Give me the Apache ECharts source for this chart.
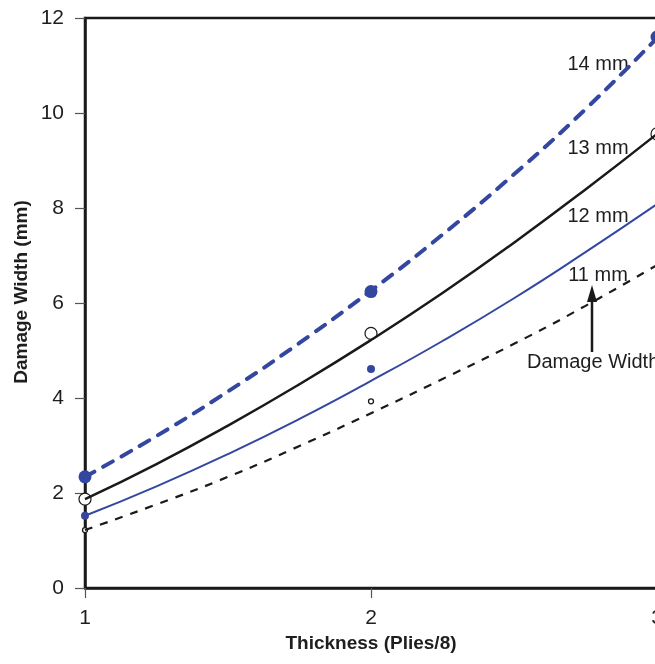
<!DOCTYPE html>
<html>
<head>
<meta charset="utf-8">
<script src="https://cdn.jsdelivr.net/npm/echarts@6/dist/echarts.min.js"></script>
<style>
  html, body { margin: 0; padding: 0; background: #fff; }
  #chart { width: 655px; height: 664px; }
</style>
</head>
<body>
<div id="chart"></div>
<script>
// Fitted damage-width curves versus laminate thickness, one per impactor size
const thickness = [1, 1.25, 1.5, 1.75, 2, 2.25, 2.5, 2.75, 3];
const fit14mm = [2.34, 3.20, 4.14, 5.16, 6.26, 7.44, 8.71, 10.08, 11.58];
const fit13mm = [1.87, 2.61, 3.42, 4.29, 5.22, 6.21, 7.27, 8.39, 9.56];
const fit12mm = [1.52, 2.14, 2.82, 3.56, 4.36, 5.20, 6.10, 7.07, 8.08];
const fit11mm = [1.22, 1.76, 2.34, 2.99, 3.68, 4.40, 5.14, 5.94, 6.80];

// Measured points
const testThickness = [1, 2, 3];
const test14mm = [2.34, 6.24, 11.6];
const test13mm = [1.87, 5.36, 9.56];
const test12mm = [1.52, 4.61];
const test11mm = [1.22, 3.93];

const xTicks = [1, 2, 3];
const yTicks = [0, 2, 4, 6, 8, 10, 12];

const seriesLabels = ['14 mm', '13 mm', '12 mm', '11 mm'];
const calloutText = 'Damage Width';
const xTitle = 'Thickness (Plies/8)';
const yTitle = 'Damage Width (mm)';

const BLUE = '#3447a0';
const BLACK = '#1a1a1a';
const TEXT = '#1e1e1e';
const FONT = "'Liberation Sans', Arial, sans-serif";

const pairs = (xs, ys) => ys.map((y, i) => [xs[i], y]);

const chart = echarts.init(document.getElementById('chart'), null, { renderer: 'canvas' });

chart.setOption({
  animation: false,
  backgroundColor: '#fff',
  grid: {
    left: 85, top: 18, width: 572, height: 570,
    outerBoundsMode: 'none', containLabel: false,
    show: true, borderColor: BLACK, borderWidth: 2.5, backgroundColor: 'transparent'
  },
  xAxis: {
    type: 'value', min: xTicks[0], max: xTicks[xTicks.length - 1], interval: 1,
    name: xTitle, nameLocation: 'middle', nameGap: 44,
    nameTextStyle: { fontFamily: FONT, fontSize: 19, fontWeight: 'bold', color: TEXT },
    axisLine: { show: true, onZero: false, lineStyle: { color: BLACK, width: 2.5 } },
    axisTick: { show: true, length: 10, lineStyle: { color: '#555', width: 1.2 } },
    axisLabel: { margin: 20, fontFamily: FONT, fontSize: 21, color: TEXT },
    splitLine: { show: false }
  },
  yAxis: {
    type: 'value', min: yTicks[0], max: yTicks[yTicks.length - 1], interval: 2,
    axisLine: { show: true, onZero: false, lineStyle: { color: BLACK, width: 2.5 } },
    axisTick: { show: true, length: 10, lineStyle: { color: '#555', width: 1.2 } },
    axisLabel: { margin: 21, fontFamily: FONT, fontSize: 21, color: TEXT },
    splitLine: { show: false }
  },
  series: [
    {
      type: 'line', name: seriesLabels[0], data: pairs(thickness, fit14mm),
      smooth: true, symbol: 'none',
      lineStyle: { color: BLUE, width: 4, type: [11, 10], cap: 'round' }
    },
    {
      type: 'line', name: seriesLabels[1], data: pairs(thickness, fit13mm),
      smooth: true, symbol: 'none',
      lineStyle: { color: BLACK, width: 2.5 }
    },
    {
      type: 'line', name: seriesLabels[2], data: pairs(thickness, fit12mm),
      smooth: true, symbol: 'none',
      lineStyle: { color: BLUE, width: 2 }
    },
    {
      type: 'line', name: seriesLabels[3], data: pairs(thickness, fit11mm),
      smooth: true, symbol: 'none',
      lineStyle: { color: BLACK, width: 2.2, type: [8, 8] }
    },
    {
      type: 'scatter', data: pairs(testThickness, test14mm), symbolSize: 13,
      itemStyle: { color: BLUE, opacity: 1 }
    },
    {
      type: 'scatter', data: pairs(testThickness, test13mm), symbolSize: 12,
      itemStyle: { color: '#fff', borderColor: BLACK, borderWidth: 1.2, opacity: 1 }
    },
    {
      type: 'scatter', data: pairs(testThickness, test12mm), symbolSize: 8,
      itemStyle: { color: BLUE, opacity: 1 }
    },
    {
      type: 'scatter', data: pairs(testThickness, test11mm), symbolSize: 5,
      itemStyle: { color: '#fff', borderColor: BLACK, borderWidth: 1.3, opacity: 1 }
    }
  ],
  graphic: [
    { type: 'text', x: 22, y: 292, rotation: Math.PI / 2, style: { text: yTitle, font: 'bold 19px ' + FONT, fill: TEXT, align: 'center', verticalAlign: 'middle' } },
    { type: 'text', x: 598, y: 64, style: { text: seriesLabels[0], font: '20px ' + FONT, fill: TEXT, align: 'center', verticalAlign: 'middle' } },
    { type: 'text', x: 598, y: 148, style: { text: seriesLabels[1], font: '20px ' + FONT, fill: TEXT, align: 'center', verticalAlign: 'middle' } },
    { type: 'text', x: 598, y: 216, style: { text: seriesLabels[2], font: '20px ' + FONT, fill: TEXT, align: 'center', verticalAlign: 'middle' } },
    { type: 'text', x: 598, y: 275, style: { text: seriesLabels[3], font: '20px ' + FONT, fill: TEXT, align: 'center', verticalAlign: 'middle' } },
    { type: 'text', x: 527, y: 362, style: { text: calloutText, font: '20px ' + FONT, fill: TEXT, align: 'left', verticalAlign: 'middle' } },
    // callout arrow pointing up at the 11 mm curve
    { type: 'line', shape: { x1: 592, y1: 352, x2: 592, y2: 296 }, style: { stroke: BLACK, lineWidth: 2.5 } },
    { type: 'polygon', shape: { points: [[592, 285], [587, 302], [597, 302]] }, style: { fill: BLACK } }
  ]
});
</script>
</body>
</html>
